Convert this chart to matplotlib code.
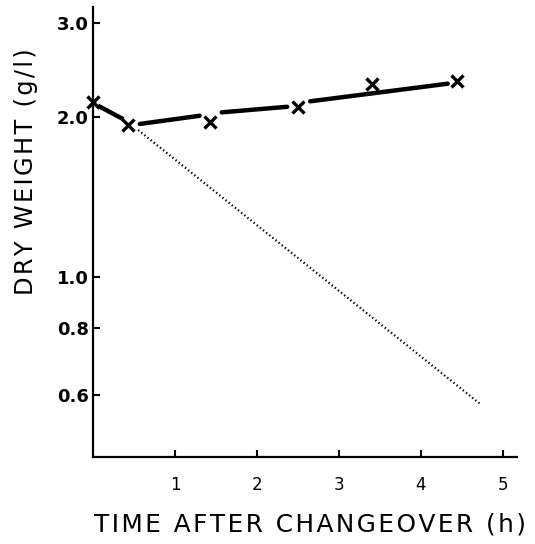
"""Dry weight after changeover, log scale (recreated figure)."""
import matplotlib
matplotlib.use("Agg")
import matplotlib.pyplot as plt

plt.rcParams["font.family"] = ["DejaVu Sans"]

# measured points (h, g/l)
time_h = [0.0, 0.43, 1.43, 2.50, 3.41, 4.44]
dry_wt = [2.13, 1.93, 1.96, 2.09, 2.31, 2.34]

# short descending piece between the first two points
drop_t = [0.06, 0.37]
drop_v = [2.10, 1.98]

# fitted growth line, drawn in pieces with gaps at the markers
fit_segs_t = [[0.57, 1.30], [1.57, 2.37], [2.65, 4.33]]
fit_segs_v = [[1.94, 2.01], [2.04, 2.09], [2.14, 2.31]]

# extrapolated wash-out (dotted)
wash_t = [0.55, 4.74]
wash_v = [1.89, 0.574]

x_ticks = [1, 2, 3, 4, 5]
y_ticks = [0.6, 0.8, 1.0, 2.0, 3.0]
y_labels = ["0.6", "0.8", "1.0", "2.0", "3.0"]


def spaced(s, gap="\u200a"):
    # old stencil-style lettering is widely spaced
    return gap.join(s)


fig = plt.figure(figsize=(5.35, 5.44), dpi=100)
ax = fig.add_axes([0.174, 0.160, 0.793, 0.827])
ax.set_yscale("log")
ax.set_xlim(0, 5.18)
ax.set_ylim(0.458, 3.22)

ax.plot(drop_t, drop_v, color="black", lw=3.2, solid_capstyle="butt")
for st, sv in zip(fit_segs_t, fit_segs_v):
    ax.plot(st, sv, color="black", lw=3.2, solid_capstyle="round")
ax.plot(wash_t, wash_v, color="black", lw=1.6, ls=(0, (0.6, 1.2)))
ax.plot(time_h, dry_wt, ls="none", marker="x", ms=9, mew=2.4, color="black",
        clip_on=False, zorder=5)

for s in ["top", "right"]:
    ax.spines[s].set_visible(False)
for s in ["left", "bottom"]:
    ax.spines[s].set_linewidth(1.6)

ax.set_xticks(x_ticks)
ax.set_xticklabels([str(t) for t in x_ticks], fontsize=12)
ax.set_yticks(y_ticks)
ax.set_yticklabels(y_labels, fontsize=13, fontweight="bold")
ax.yaxis.set_minor_locator(matplotlib.ticker.NullLocator())
ax.tick_params(axis="both", direction="in", length=5, width=1.5)
ax.tick_params(axis="y", pad=3)
ax.tick_params(axis="x", pad=14)

fig.text(0.048, 0.684, spaced("DRY WEIGHT (g/l)"), rotation=90, ha="center",
         va="center", fontsize=17.3)
fig.text(0.580, 0.035, spaced("TIME AFTER CHANGEOVER (h)"), ha="center",
         va="center", fontsize=17.8)

fig.savefig("out.png", dpi=100)
